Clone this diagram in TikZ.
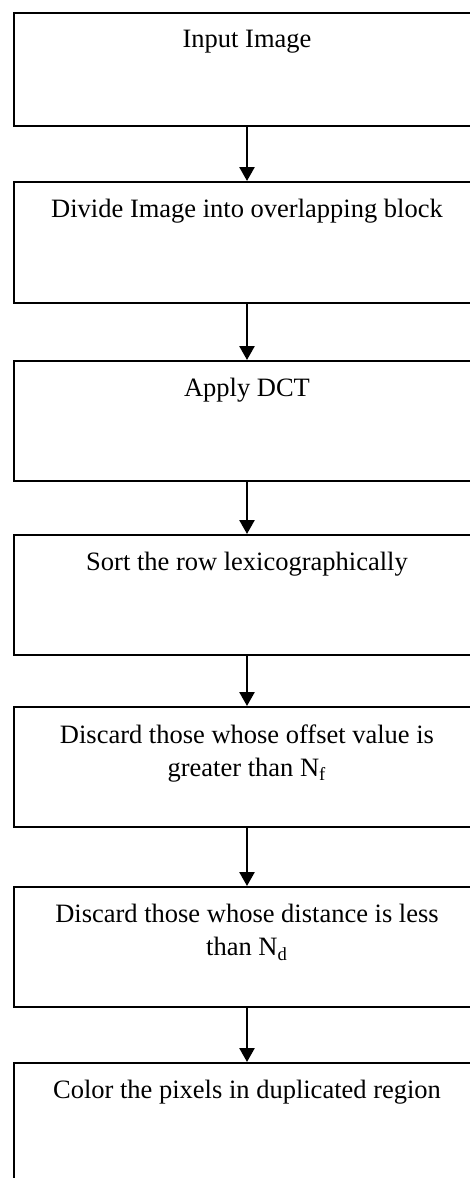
\documentclass[tikz,border=0pt]{standalone}
\usepackage{fontspec}
\setmainfont{Liberation Serif}
\usetikzlibrary{arrows.meta,positioning}
\begin{document}
\begin{tikzpicture}[x=0.5pt,y=-0.5pt,
  stepbox/.style={draw=black,line width=1pt,rectangle,minimum width=233pt,inner sep=0pt,fill=none},
  txt/.style={align=center,inner sep=0pt,font=\fontsize{13.25}{16.5}\selectfont},
  flow/.style={line width=1.3pt,-{Triangle[width=7.5pt,length=7pt]}}]
\useasboundingbox (0,0) rectangle (470,1178);
\clip (0,0) rectangle (470,1178);
\node[stepbox,minimum height=56.5pt] (b1) at (247,69.5) {};
\node[stepbox,minimum height=60.5pt] (b2) at (247,242.5) {};
\node[stepbox,minimum height=60pt] (b3) at (247,421) {};
\node[stepbox,minimum height=60pt] (b4) at (247,595) {};
\node[stepbox,minimum height=60pt] (b5) at (247,767) {};
\node[stepbox,minimum height=60pt] (b6) at (247,947) {};
\node[stepbox,minimum height=61pt] (b7) at (247,1124) {};
\node[txt,below=9pt of b1.north] (t1) {Input Image};
\node[txt,below=9pt of b2.north] (t2) {Divide Image into overlapping block};
\node[txt,below=9pt of b3.north] (t3) {Apply DCT};
\node[txt,below=9pt of b4.north] (t4) {Sort the row lexicographically};
\node[txt,below=9pt of b5.north] (t5) {Discard those whose offset value is\\greater than N\textsubscript{f}};
\node[txt,below=9pt of b6.north] (t6) {Discard those whose distance is less\\than N\textsubscript{d}};
\node[txt,below=9pt of b7.north] (t7) {Color the pixels in duplicated region};
\draw[flow] (b1.south) -- (b2.north);
\draw[flow] (b2.south) -- (b3.north);
\draw[flow] (b3.south) -- (b4.north);
\draw[flow] (b4.south) -- (b5.north);
\draw[flow] (b5.south) -- (b6.north);
\draw[flow] (b6.south) -- (b7.north);
\end{tikzpicture}
\end{document}
